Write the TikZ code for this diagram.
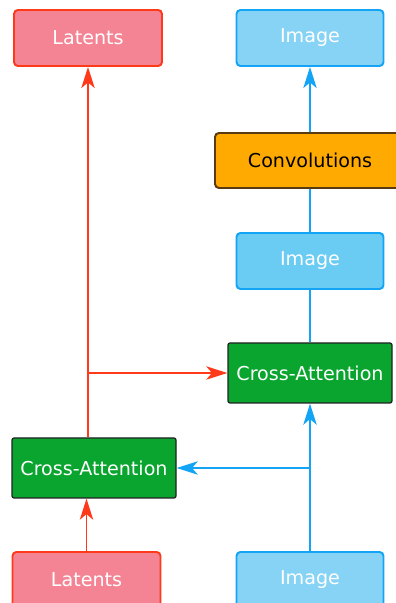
\documentclass[tikz,border=0pt]{standalone}
\usepackage{fontspec}
\setmainfont{DejaVu Sans}
\usetikzlibrary{arrows.meta}

\definecolor{latfill}{HTML}{F48494}
\definecolor{latline}{HTML}{FF3A1A}
\definecolor{imgfill}{HTML}{87D3F5}
\definecolor{imgmid}{HTML}{6ACBF3}
\definecolor{imgline}{HTML}{14A4F5}
\definecolor{convfill}{HTML}{FFAA00}
\definecolor{convline}{HTML}{5A3A10}
\definecolor{cafill}{HTML}{0AA52E}
\definecolor{caline}{HTML}{222222}

\begin{document}
\begin{tikzpicture}[
	box/.style={rectangle,rounded corners=2.8pt,line width=1.4pt,inner sep=0pt,
		font=\fontsize{13.6}{16}\selectfont},
	latbox/.style={box,draw=latline,fill=latfill,text=white,minimum width=3.7cm,minimum height=1.4cm},
	imgbox/.style={box,draw=imgline,fill=imgfill,text=white,minimum width=3.675cm,minimum height=1.4cm},
	convbox/.style={box,draw=convline,fill=convfill,text=black,minimum width=4.75cm,minimum height=1.375cm},
	cabox/.style={box,rounded corners=1.5pt,line width=0.9pt,draw=caline,fill=cafill,text=white,minimum width=4.1cm,minimum height=1.5cm},
	redarr/.style={->,>={Stealth[length=15pt,width=9.5pt,inset=4pt]},latline,line width=1.2pt},
	bluearr/.style={->,>={Stealth[length=15pt,width=9.5pt,inset=4pt]},imgline,line width=1.2pt},
	blueline/.style={imgline,line width=1.2pt}]
	\useasboundingbox (0,0) rectangle (9.875,15.075);

	%top row
	\node[latbox] (lattop) at (2.2,14.125) {Latents};
	\node[imgbox] (imgtop) at (7.75,14.125) {Image};

	%right column
	\node[convbox] (conv) at (7.75,11.0625) {Convolutions};
	\node[imgbox,fill=imgmid] (imgmid) at (7.75,8.55) {Image};
	\node[cabox] (caright) at (7.75,5.75) {Cross-Attention};

	%left column
	\node[cabox] (caleft) at (2.35,3.375) {Cross-Attention};

	%bottom row
	\node[latbox] (latbot) at (2.1625,0.575) {Latents};
	\node[imgbox] (imgbot) at (7.75,0.575) {Image};

	%latents path
	\draw[redarr] (latbot.north) -- (latbot.north |- caleft.south);
	\draw[redarr] (lattop.south |- caleft.north) -- (lattop.south);
	\draw[redarr] (lattop.south |- caright.west) -- (caright.west);

	%image path
	\draw[bluearr] (imgbot.north) -- (imgbot.north |- caright.south);
	\draw[bluearr] (imgbot.north |- caleft.east) -- (caleft.east);
	\draw[blueline] (caright.north) -- (imgmid.south);
	\draw[blueline] (imgmid.north) -- (conv.south);
	\draw[bluearr] (conv.north) -- (imgtop.south);
\end{tikzpicture}
\end{document}
